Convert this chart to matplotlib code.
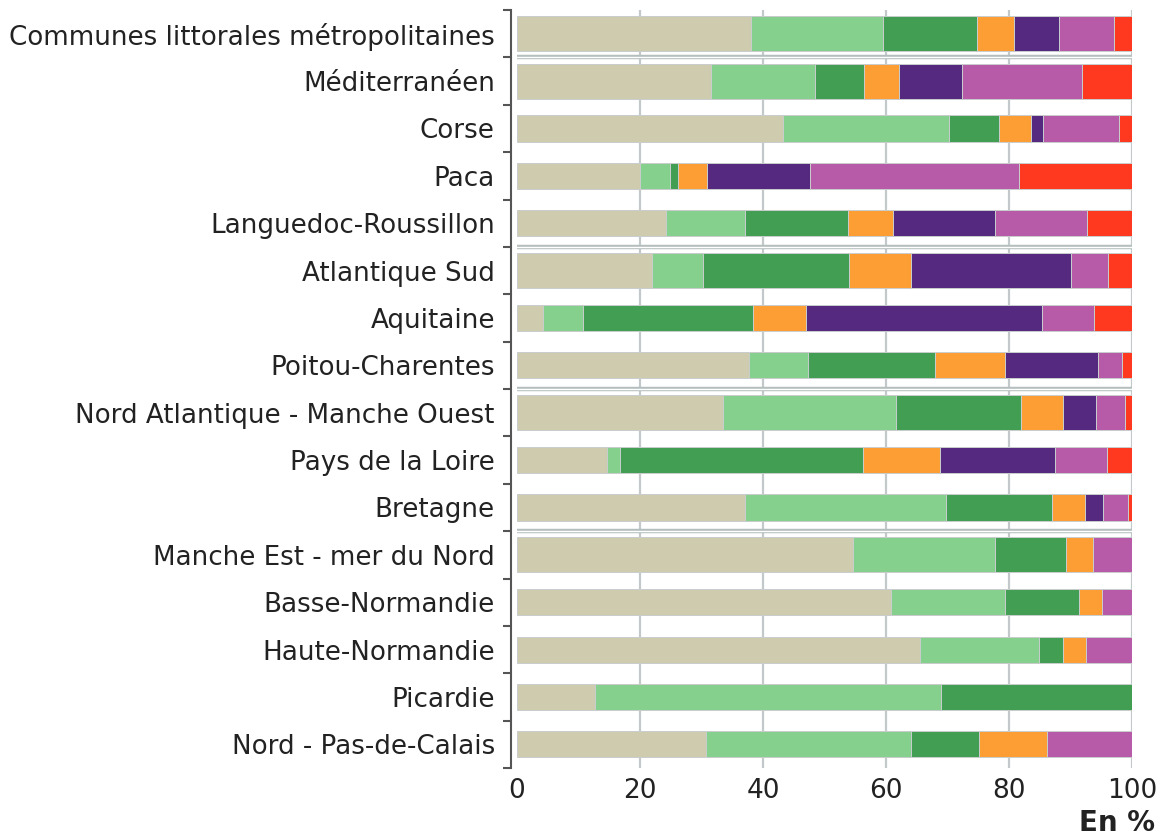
import numpy as np
from matplotlib import pyplot as plt

# Regions, top to bottom
categories = [
    'Communes littorales métropolitaines', 'Méditerranéen', 'Corse', 'Paca',
    'Languedoc-Roussillon', 'Atlantique Sud', 'Aquitaine', 'Poitou-Charentes',
    'Nord Atlantique - Manche Ouest', 'Pays de la Loire', 'Bretagne',
    'Manche Est - mer du Nord', 'Basse-Normandie', 'Haute-Normandie',
    'Picardie', 'Nord - Pas-de-Calais',
]
# aggregated rows (drawn thicker)
totals = ['Communes littorales métropolitaines', 'Méditerranéen', 'Atlantique Sud',
          'Nord Atlantique - Manche Ouest', 'Manche Est - mer du Nord']

# Shares in % for each of the seven parts
beige = [38.1, 31.5, 43.3, 20.0, 24.2, 21.9, 4.3, 37.8, 33.5, 14.7, 37.0, 54.6, 60.8, 65.5, 12.6, 30.7]
light_green = [21.4, 16.9, 26.9, 4.8, 12.9, 8.3, 6.5, 9.5, 28.1, 2.1, 32.8, 23.1, 18.6, 19.4, 56.3, 33.4]
dark_green = [15.3, 8.0, 8.2, 1.4, 16.7, 23.8, 27.5, 20.6, 20.4, 39.4, 17.2, 11.5, 11.9, 3.8, 31.1, 11.0]
orange = [6.0, 5.7, 5.1, 4.7, 7.4, 10.0, 8.7, 11.5, 6.7, 12.6, 5.3, 4.5, 3.8, 3.8, 0.0, 11.0]
purple = [7.3, 10.3, 2.1, 16.8, 16.6, 26.1, 38.3, 15.0, 5.5, 18.7, 3.0, 0.0, 0.0, 0.0, 0.0, 0.0]
pink = [9.0, 19.4, 12.3, 33.9, 14.9, 6.0, 8.5, 3.9, 4.6, 8.4, 4.0, 6.3, 4.9, 7.5, 0.0, 13.9]
red = [2.9, 8.2, 2.1, 18.4, 7.3, 3.9, 6.2, 1.7, 1.2, 4.1, 0.7, 0.0, 0.0, 0.0, 0.0, 0.0]

series = [beige, light_green, dark_green, orange, purple, pink, red]
colors = ['#CFCBAF', '#84D08C', '#419E52', '#FC9E33', '#55297F', '#B75BA9', '#FE391F']

if __name__ == '__main__':
    plt.rcParams['font.family'] = ['DejaVu Sans']
    fig = plt.figure(figsize=(11.65, 8.38), dpi=100)
    ax = fig.add_axes([0.4438, 0.0835, 0.9717 - 0.4438, 0.988 - 0.0835])

    y = np.arange(len(categories))
    heights = [0.74 if c in totals else 0.55 for c in categories]

    left = np.zeros(len(categories))
    for vals, col in zip(series, colors):
        vals = np.array(vals)
        ax.barh(y, vals, left=left, height=heights, color=col,
                edgecolor='#c9cdcd', linewidth=0.7, zorder=3)
        left += vals

    # vertical grid
    for gx in [20, 40, 60, 80, 100]:
        ax.axvline(gx, color='#c3c9cb', linewidth=1.6, zorder=1)

    # double separators between groups
    for sep in [0.5, 4.5, 7.5, 10.5]:
        ax.axhline(sep, color='#b4bebe', linewidth=3.2, zorder=2)
        ax.axhline(sep, color='white', linewidth=1.0, zorder=2)

    ax.set_xlim(0, 100)
    ax.set_ylim(len(categories) - 0.5, -0.5)

    ax.set_xticks([0, 20, 40, 60, 80, 100])
    ax.tick_params(axis='x', length=0, labelsize=19, pad=7, labelcolor='#222222')

    ax.set_yticks(np.arange(len(categories) + 1) - 0.5)
    ax.set_yticklabels([])
    ax.set_yticks(y, minor=True)
    ax.set_yticklabels(categories, minor=True)
    ax.tick_params(axis='y', which='major', length=6, width=1.5, color='#555555')
    ax.tick_params(axis='y', which='minor', length=0, pad=12, labelsize=18.8, labelcolor='#222222')

    for s in ['top', 'right', 'bottom']:
        ax.spines[s].set_visible(False)
    ax.spines['left'].set_color('#555555')
    ax.spines['left'].set_linewidth(1.5)
    ax.spines['left'].set_position(('outward', 4))

    fig.text(0.991, 0.018, 'En %', ha='right', va='center', fontsize=20,
             fontweight='bold', color='#222222')

    plt.savefig('out.png', dpi=100)
